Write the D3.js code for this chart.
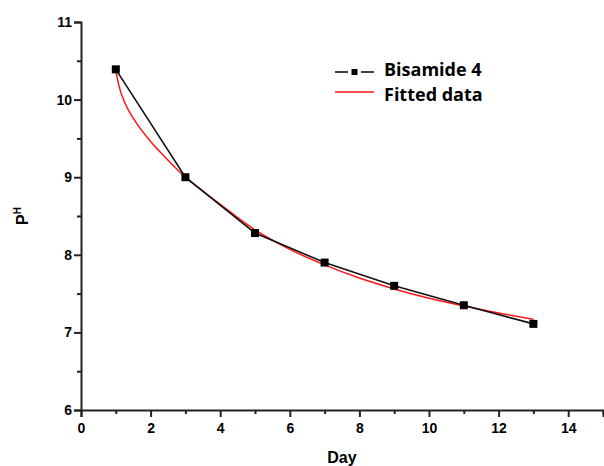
<!DOCTYPE html>
<html>
<head>
<meta charset="utf-8">
<script src="https://cdn.jsdelivr.net/npm/d3@7"></script>
<style>
  html, body { margin: 0; padding: 0; background: #fff; }
  svg { display: block; }
  .title { font-family: "Liberation Sans", Arial, sans-serif; font-size: 16px; font-weight: bold; fill: #000; }
  .legend text { font-family: "Open Sans", sans-serif; font-size: 18px; font-weight: bold; fill: #000; }
</style>
</head>
<body>
<svg id="chart" width="604" height="466"></svg>
<script>
// Measured pH of Bisamide 4 by day
const days = [1, 3, 5, 7, 9, 11, 13];
const phValues = [10.39, 9.0, 8.28, 7.9, 7.6, 7.35, 7.11];

// Fitted curve, sampled along the day axis
const fitDays = [1, 1.1, 1.25, 1.5, 1.75, 2, 2.5, 3, 3.5, 4, 5, 6, 7, 8, 9, 10, 11, 12, 13];
const fitValues = [10.37, 10.16, 9.97, 9.76, 9.6, 9.46, 9.22, 9.0, 8.82, 8.65, 8.32, 8.07, 7.87, 7.7, 7.56, 7.44, 7.34, 7.25, 7.17];

const xMajorTicks = [0, 2, 4, 6, 8, 10, 12, 14];
const xMinorTicks = [1, 3, 5, 7, 9, 11, 13, 15];
const yMajorTicks = [6, 7, 8, 9, 10, 11];
const yMinorTicks = [6.5, 7.5, 8.5, 9.5, 10.5];

const seriesNames = ["Bisamide 4", "Fitted data"];

const svg = d3.select("#chart");
const x = d3.scaleLinear().domain([0, 15]).range([81, 603]);
const y = d3.scaleLinear().domain([6, 11]).range([410, 22]);

const axisColor = "#222";

// X axis
const gx = svg.append("g").attr("transform", `translate(0,${y(6)})`);
gx.call(d3.axisBottom(x).tickValues(xMajorTicks).tickSize(7).tickPadding(6).tickFormat(d3.format("d")));
const gxMinor = svg.append("g").attr("transform", `translate(0,${y(6)})`);
gxMinor.call(d3.axisBottom(x).tickValues(xMinorTicks).tickSize(4).tickFormat(""));
gxMinor.select(".domain").remove();

// Y axis
const gy = svg.append("g").attr("transform", `translate(${x(0)},0)`);
gy.call(d3.axisLeft(y).tickValues(yMajorTicks).tickSize(7).tickPadding(2).tickFormat(d3.format("d")));
const gyMinor = svg.append("g").attr("transform", `translate(${x(0)},0)`);
gyMinor.call(d3.axisLeft(y).tickValues(yMinorTicks).tickSize(4).tickFormat(""));
gyMinor.select(".domain").remove();

svg.selectAll(".domain").attr("stroke", axisColor).attr("stroke-width", 2);
svg.selectAll(".tick line").attr("stroke", axisColor).attr("stroke-width", 2);
svg.selectAll(".tick text")
  .style("font-family", "'Liberation Sans', Arial, sans-serif")
  .style("font-size", "14px")
  .style("font-weight", "bold")
  .attr("fill", "#000");

// Axis titles
svg.append("text")
  .attr("class", "title")
  .attr("x", (x(0) + x(15)) / 2)
  .attr("y", 463)
  .attr("text-anchor", "middle")
  .text("Day");

const yTitle = svg.append("text")
  .attr("class", "title")
  .attr("transform", `translate(28,${(y(6) + y(11)) / 2}) rotate(-90)`)
  .attr("text-anchor", "middle");
yTitle.append("tspan").text("P");
yTitle.append("tspan").attr("dy", "-7").style("font-size", "10px").text("H");

// Fitted curve
svg.append("path")
  .datum(fitDays.map((d, i) => [d, fitValues[i]]))
  .attr("fill", "none")
  .attr("stroke", "#ff1414")
  .attr("stroke-width", 1.5)
  .attr("d", d3.line().x(d => x(d[0])).y(d => y(d[1])).curve(d3.curveMonotoneX));

// Measured series
const measured = days.map((d, i) => [d, phValues[i]]);
svg.append("path")
  .datum(measured)
  .attr("fill", "none")
  .attr("stroke", "#111")
  .attr("stroke-width", 1.6)
  .attr("d", d3.line().x(d => x(d[0])).y(d => y(d[1])));

const markerSize = 8;
svg.selectAll("rect.pt")
  .data(measured)
  .join("rect")
  .attr("class", "pt")
  .attr("x", d => x(d[0]) - markerSize / 2)
  .attr("y", d => y(d[1]) - markerSize / 2)
  .attr("width", markerSize)
  .attr("height", markerSize)
  .attr("fill", "#000");

// Legend
const legend = svg.append("g").attr("class", "legend");
legend.append("line").attr("x1", 335).attr("x2", 348).attr("y1", 72).attr("y2", 72)
  .attr("stroke", "#111").attr("stroke-width", 1.6);
legend.append("line").attr("x1", 361).attr("x2", 374).attr("y1", 72).attr("y2", 72)
  .attr("stroke", "#111").attr("stroke-width", 1.6);
legend.append("rect").attr("x", 351.5).attr("y", 69).attr("width", 6).attr("height", 6).attr("fill", "#000");
legend.append("text").attr("x", 384).attr("y", 76).text(seriesNames[0]);
legend.append("line").attr("x1", 335).attr("x2", 374).attr("y1", 92).attr("y2", 92)
  .attr("stroke", "#ff1414").attr("stroke-width", 1.6);
legend.append("text").attr("x", 384).attr("y", 100.5).text(seriesNames[1]);
</script>
</body>
</html>
